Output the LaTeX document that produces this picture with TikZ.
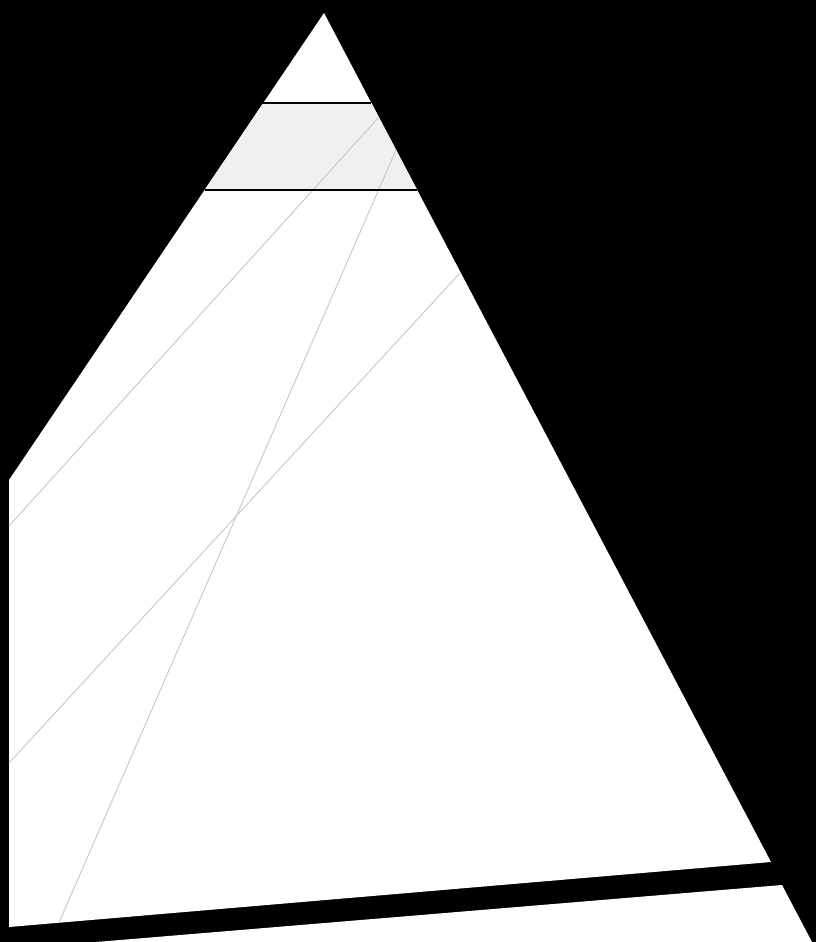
\documentclass[tikz,border=0pt]{standalone}
\usetikzlibrary{calc}

\tikzset{
    raya/.style={draw=black!22,line width=0.9pt},
    franja/.style={fill=black!6},
    borde/.style={draw=black,line width=2pt}
}

\begin{document}
\begin{tikzpicture}[x=1pt,y=-1pt]
    \useasboundingbox (0,0) rectangle (816,942);
    \fill[black] (0,0) rectangle (816,942);
    \coordinate (cima) at (324,13);
    \coordinate (derA) at (771,862);
    \coordinate (izqA) at (9,927);
    \coordinate (izqB) at (9,480);
    \fill[white] (cima) -- (derA) -- (izqA) -- (izqB) -- cycle;
    \fill[white] (96,942) -- (782,885) -- (812,942) -- cycle;
    \fill[franja] (263.3,103) -- (371.4,103) -- (417.2,190) -- (204.6,190) -- cycle;
    \draw[raya] (379,117) -- (9,526);
    \draw[raya] (396,150) -- (59,922.5);
    \draw[raya] (460,273) -- (9,763);
    \draw[borde] (263.3,103) -- (371.4,103);
    \draw[borde] (204.6,190) -- (417.2,190);
\end{tikzpicture}
\end{document}
